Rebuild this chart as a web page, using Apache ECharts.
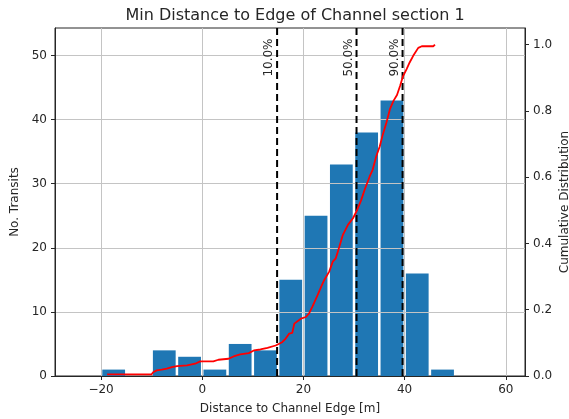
<!DOCTYPE html>
<html><head><meta charset="utf-8">
<script src="https://cdn.jsdelivr.net/npm/echarts@6/dist/echarts.min.js"></script>
<style>html,body{margin:0;padding:0;background:#fff}#c{width:569px;height:419px}</style>
</head><body><div id="c"></div>
<script>
// Histogram bins (lower edges) and counts
const binStarts = [-20, -15, -10, -5, 0, 5, 10, 15, 20, 25, 30, 35, 40, 45];
const binCounts = [1, 0, 4, 3, 1, 5, 4, 15, 25, 33, 38, 43, 16, 1];
const binWidth = 5;
const barFraction = 0.9;

// Cumulative distribution (traced)
const cdfX = [-18.8, -10, -9.7, -9, -8, -7, -6, -5, -3, -1.4, -0.4, 2.2, 3.2, 5.2, 6.2, 7.5, 9.2, 10.2, 11.5, 12.9, 14.5, 14.8, 15.8, 16.5, 17.2, 17.8, 18.2, 19.5, 20.5, 21.1, 21.8, 22.8, 23.5, 24.1, 25.1, 25.8, 26.4, 27.1, 27.8, 28.8, 29.8, 30.5, 31.4, 32.1, 33.1, 33.7, 34.4, 35.1, 35.7, 36.4, 37.1, 37.8, 38.5, 39.1, 39.7, 40.4, 41, 41.7, 42.7, 43.4, 45.7, 46];
const cdfY = [0.005, 0.005, 0.0115, 0.017, 0.019, 0.022, 0.027, 0.03, 0.032, 0.037, 0.044, 0.044, 0.049, 0.052, 0.059, 0.065, 0.069, 0.077, 0.08, 0.085, 0.092, 0.0975, 0.102, 0.113, 0.128, 0.13, 0.158, 0.173, 0.178, 0.188, 0.21, 0.244, 0.269, 0.289, 0.315, 0.345, 0.355, 0.39, 0.426, 0.456, 0.476, 0.497, 0.53, 0.562, 0.602, 0.623, 0.663, 0.693, 0.729, 0.764, 0.805, 0.83, 0.848, 0.875, 0.905, 0.926, 0.946, 0.966, 0.99, 0.995, 0.995, 1.0];

// Percentile markers
const percentileValues = [14.8, 30.5, 39.6];
const percentileLabels = ['10.0%', '50.0%', '90.0%'];
const percentileLabelY = 50;

// Axis ticks
const xTicks = [-20, 0, 20, 40, 60];
const leftTicks = [0, 10, 20, 30, 40, 50];
const rightTicks = [0, 0.2, 0.4, 0.6, 0.8, 1.0];
const xMin = -29.1, xMax = 63.8;
const leftMax = 54.3, rightMax = 1.05;

const FONT = '"DejaVu Sans", sans-serif';
const TXT = '#262626';
const FS = 12;

const chart = echarts.init(document.getElementById('c'), null, {renderer: 'canvas'});
chart.setOption({
  animation: false,
  backgroundColor: '#fff',
  title: {
    text: 'Min Distance to Edge of Channel section 1',
    left: 290, top: 3, textAlign: 'center',
    textStyle: {fontFamily: FONT, fontSize: 16, fontWeight: 'normal', color: TXT}
  },
  grid: {left: 55, right: 44, top: 28, bottom: 43, show: true, borderColor: TXT, borderWidth: 1,
    backgroundColor: 'transparent', outerBoundsMode: 'none', containLabel: false},
  xAxis: {
    type: 'value', min: xMin, max: xMax, z: 3,
    name: 'Distance to Channel Edge [m]', nameLocation: 'middle', nameGap: 27, nameMoveOverlap: false,
    nameTextStyle: {fontFamily: FONT, fontSize: FS, color: TXT},
    axisLine: {show: true, onZero: false, lineStyle: {color: TXT, width: 1}},
    axisTick: {show: true, length: 4, customValues: xTicks, lineStyle: {color: TXT}},
    axisLabel: {customValues: xTicks, margin: 8, fontFamily: FONT, fontSize: FS, color: TXT,
      formatter: v => v < 0 ? '\u2212' + Math.abs(v) : String(v)},
    splitLine: {show: true, lineStyle: {color: '#c4c4c4', width: 1}}
  },
  yAxis: [{
    type: 'value', min: 0, max: leftMax, position: 'left', z: 3,
    name: 'No. Transits', nameLocation: 'middle', nameGap: 34, nameRotate: 90, nameMoveOverlap: false,
    nameTextStyle: {fontFamily: FONT, fontSize: FS, color: TXT},
    axisLine: {show: true, onZero: false, lineStyle: {color: TXT, width: 1}},
    axisTick: {show: true, length: 4, customValues: leftTicks, lineStyle: {color: TXT}},
    axisLabel: {customValues: leftTicks, margin: 8, fontFamily: FONT, fontSize: FS, color: TXT},
    splitLine: {show: true, lineStyle: {color: '#c4c4c4', width: 1}}
  }, {
    type: 'value', min: 0, max: rightMax, position: 'right', z: 3,
    name: 'Cumulative Distribution', nameLocation: 'middle', nameGap: 34, nameRotate: 90, nameMoveOverlap: false,
    nameTextStyle: {fontFamily: FONT, fontSize: FS, color: TXT},
    axisLine: {show: true, onZero: false, lineStyle: {color: TXT, width: 1}},
    axisTick: {show: true, length: 4, customValues: rightTicks, lineStyle: {color: TXT}},
    axisLabel: {customValues: rightTicks, margin: 8, fontFamily: FONT, fontSize: FS, color: TXT,
      formatter: v => v.toFixed(1)},
    splitLine: {show: false}
  }],
  series: [{
    type: 'custom', name: 'hist', z: 1, xAxisIndex: 0, yAxisIndex: 0,
    data: binStarts.map((s, i) => [s, s + binWidth, binCounts[i]]),
    encode: {x: [0, 1], y: 2},
    renderItem: function (params, api) {
      const x0 = api.value(0), x1 = api.value(1), h = api.value(2);
      if (!h) return null;
      const pad = (x1 - x0) * (1 - barFraction) / 2;
      const p0 = api.coord([x0 + pad, h]);
      const p1 = api.coord([x1 - pad, 0]);
      return {type: 'rect', shape: {x: p0[0], y: p0[1], width: p1[0] - p0[0], height: p1[1] - p0[1]},
        style: {fill: '#1f77b4'}};
    }
  }, {
    type: 'custom', name: 'percentiles', z: 4, xAxisIndex: 0, yAxisIndex: 0,
    data: percentileValues.map((v, i) => [v, i]),
    encode: {x: 0},
    renderItem: function (params, api) {
      const x = api.value(0), idx = api.value(1);
      const top = api.coord([x, leftMax]);
      const bot = api.coord([x, 0]);
      const lp = api.coord([x, percentileLabelY]);
      return {type: 'group', children: [
        {type: 'line', shape: {x1: top[0], y1: top[1], x2: bot[0], y2: bot[1]},
          style: {stroke: '#000', lineWidth: 2, lineDash: [7, 4]}},
        {type: 'text', x: lp[0] - 2, y: lp[1] + 2, rotation: Math.PI / 2,
          style: {text: percentileLabels[idx], fill: TXT, font: FS + 'px ' + FONT, align: 'center', verticalAlign: 'bottom'}}
      ]};
    }
  }, {
    type: 'line', name: 'cdf', z: 5, xAxisIndex: 0, yAxisIndex: 1,
    data: cdfX.map((x, i) => [x, cdfY[i]]),
    showSymbol: false, symbol: 'none',
    lineStyle: {color: '#ff0000', width: 1.8}
  }]
});
</script></body></html>
